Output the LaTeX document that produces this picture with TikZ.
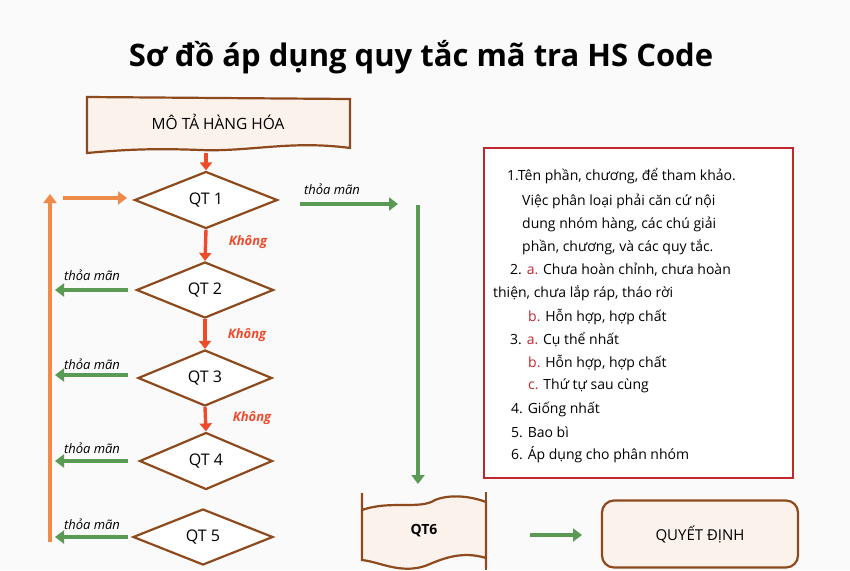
\documentclass[tikz,border=0pt]{standalone}
\usepackage{fontspec}
\setmainfont{Open Sans}
\usetikzlibrary{shapes.geometric,arrows.meta}
\definecolor{brownc}{HTML}{8E4A1C}
\definecolor{fillc}{HTML}{FCF2EC}
\definecolor{redc}{HTML}{EE4B2B}
\definecolor{greenc}{HTML}{5A9A55}
\definecolor{orangec}{HTML}{EE8A4A}
\definecolor{boxred}{HTML}{C0282D}
\definecolor{txtred}{HTML}{C0282D}
\tikzset{
 dia/.style={diamond,aspect=2.5,draw=brownc,line width=2.2pt,fill=white,font=\fontsize{16}{18}\selectfont,inner sep=0pt},
 redarr/.style={redc,line width=3.4pt,-{Triangle[length=8pt,width=12pt]}},
 grarr/.style={greenc,line width=3.4pt,-{Triangle[length=9pt,width=13pt]}},
 orarr/.style={orangec,line width=3.4pt,-{Triangle[length=9pt,width=13pt]}},
 lbl/.style={font=\itshape\fontsize{13}{15}\selectfont},
 nolbl/.style={font=\itshape\bfseries\fontsize{13}{15}\selectfont,text=redc},
 item/.style={anchor=west,font=\fontsize{14}{16}\selectfont,inner sep=0pt}
}
\begin{document}
\begin{tikzpicture}[x=1pt,y=-1pt]
\useasboundingbox[fill=white!96!gray] (0,0) rectangle (850,570);
\node (title) at (421,57) {\bfseries\fontsize{31}{34}\selectfont Sơ đồ áp dụng quy tắc mã tra HS Code};
% top box
\draw[brownc,line width=2.2pt,fill=fillc] (87,97) -- (350,99) -- (350,148) .. controls (290,140) and (250,152) .. (200,150) .. controls (150,148) and (120,150) .. (87,153) -- cycle;
\node (mota) at (218,122) {\fontsize{15.5}{18}\selectfont MÔ TẢ HÀNG HÓA};
\node[dia,minimum width=143pt,minimum height=57pt] (q1) at (206,200) {QT 1};
\node[dia,minimum width=137pt,minimum height=56pt] (q2) at (205,290) {QT 2};
\node[dia,minimum width=134pt,minimum height=56pt] (q3) at (205,378) {QT 3};
\node[dia,minimum width=133pt,minimum height=57pt] (q4) at (206,461) {QT 4};
\node[dia,minimum width=140pt,minimum height=56pt] (q5) at (203,537) {QT 5};
% red arrows
\draw[redarr] (206,153) -- (q1.north);
\draw[redarr] (q1.south) -- (q2.north);
\draw[redarr] (q2.south) -- (q3.north);
\draw[redarr] (q3.south) -- (q4.north);
\node[nolbl] (k1) at (248,242) {Không};
\node[nolbl] (k2) at (247,335) {Không};
\node[nolbl] (k3) at (252,418) {Không};
% green left arrows
\foreach \q/\y/\ly in {q2/290/275,q3/375/364,q4/461/448,q5/537/524}{
 \coordinate (e\q) at (55,\y);
 \draw[grarr] (128,\y) -- (e\q);
 \node[lbl] at (92,\ly) {thỏa mãn};
}
% orange loop
\coordinate (ob) at (50,542);
\coordinate (ot) at (50,194);
\draw[orarr] (ob) -- (ot);
\coordinate (os) at (63,198);
\draw[orarr] (os) -- (127,198);
% QT1 right
\coordinate (r1) at (398,204);
\draw[grarr] (300,204) -- (r1);
\node[lbl] (t1) at (332,189) {thỏa mãn};
\coordinate (vtop) at (418,205);
\coordinate (vbot) at (418,484);
\draw[grarr] (vtop) -- (vbot);
% QT6
\draw[brownc,line width=2.2pt,fill=fillc] (362,493) -- (362,510) .. controls (390,500) and (420,510) .. (435,500) .. controls (450,494) and (470,496) .. (486,502) -- (486,568) -- (486,558) .. controls (460,550) and (440,560) .. (425,566) .. controls (400,574) and (380,562) .. (362,560) -- cycle;
\draw[brownc,line width=2.2pt] (486,492) -- (486,570);
\node (q6) at (424,531) {\fontsize{14}{16}\selectfont\bfseries QT6};
\coordinate (g1) at (530,535);
\draw[grarr] (g1) -- (582,535);
\node[draw=brownc,line width=2.2pt,fill=fillc,rounded corners=12pt,minimum width=196pt,minimum height=67pt,font=\fontsize{15}{17}\selectfont] (qd) at (700,534) {QUYẾT ĐỊNH};
% right box
\node[draw=boxred,line width=1.6pt,fill=white,minimum width=309pt,minimum height=330pt] (rb) at (638.5,313) {};
\node[item] at (507,176) {1.Tên phần, chương, để tham khảo.};
\node[item] at (522,201) {Việc phân loại phải căn cứ nội};
\node[item] at (522,224) {dung nhóm hàng, các chú giải};
\node[item] at (522,247) {phần, chương, và các quy tắc.};
\node[item] at (510,270) {2. {\color{txtred}a.} Chưa hoàn chỉnh, chưa hoàn};
\node[item] at (493,293) {thiện, chưa lắp ráp, tháo rời};
\node[item] at (528,317) {{\color{txtred}b.} Hỗn hợp, hợp chất};
\node[item] at (510,340) {3. {\color{txtred}a.} Cụ thể nhất};
\node[item] at (528,363) {{\color{txtred}b.} Hỗn hợp, hợp chất};
\node[item] at (528,386) {{\color{txtred}c.} Thứ tự sau cùng};
\node[item] at (511,409) {4. Giống nhất};
\node[item] at (511,432) {5. Bao bì};
\node[item] at (511,455) {6. Áp dụng cho phân nhóm};
\end{tikzpicture}
\end{document}
